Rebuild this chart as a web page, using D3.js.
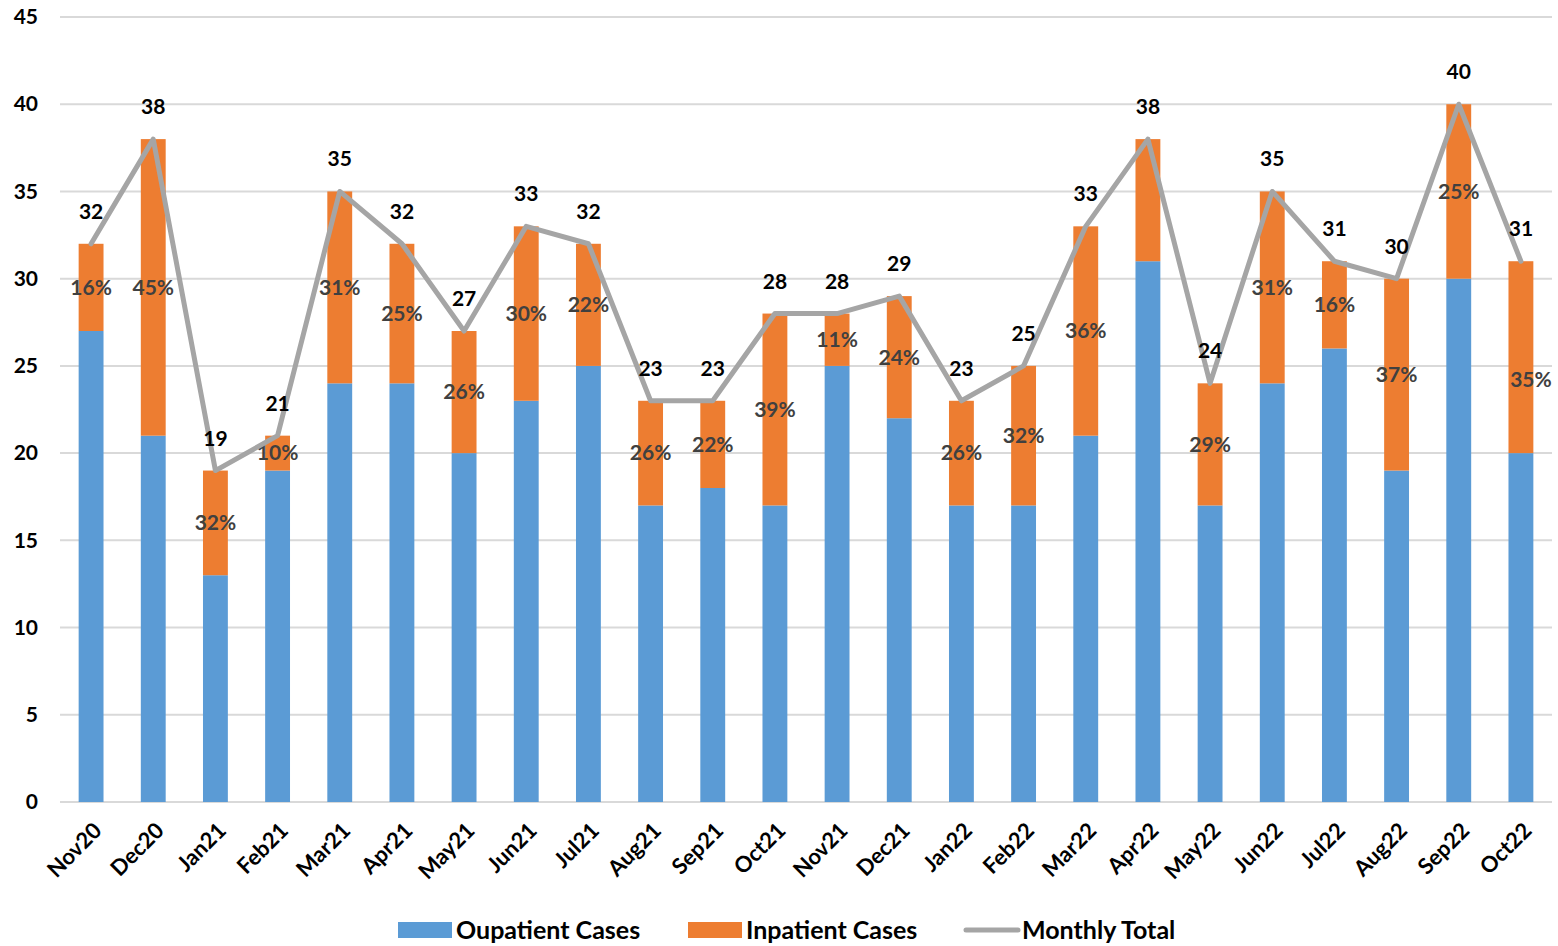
<!DOCTYPE html>
<html><head><meta charset="utf-8">
<script src="https://cdn.jsdelivr.net/npm/d3@7"></script>
<style>body{margin:0;background:#fff;} svg{display:block;}</style>
</head><body>
<script>
const categories = ["Nov20","Dec20","Jan21","Feb21","Mar21","Apr21","May21","Jun21","Jul21","Aug21","Sep21","Oct21","Nov21","Dec21","Jan22","Feb22","Mar22","Apr22","May22","Jun22","Jul22","Aug22","Sep22","Oct22"];
const outpatient = [27,21,13,19,24,24,20,23,25,17,18,17,25,22,17,17,21,31,17,24,26,19,30,20];
const totals = [32,38,19,21,35,32,27,33,32,23,23,28,28,29,23,25,33,38,24,35,31,30,40,31];
const inpatient = totals.map((t,i)=>t-outpatient[i]);
const pctLabels = ["16%","45%","32%","10%","31%","25%","26%","30%","22%","26%","22%","39%","11%","24%","26%","32%","36%","","29%","31%","16%","37%","25%","35%"];
const yTicks = [0,5,10,15,20,25,30,35,40,45];

const W=1558,H=946;
const m={left:60,right:6,top:17,bottom:144};
const svg=d3.select("body").append("svg").attr("width",W).attr("height",H);
const font="Lato, 'Open Sans', sans-serif";
const x=d3.scaleBand().domain(categories).range([m.left,W-m.right]).paddingInner(0.6).paddingOuter(0.3);
const y=d3.scaleLinear().domain([0,45]).range([H-m.bottom,m.top]);

// grid
svg.append("g").selectAll("line").data(yTicks).join("line")
  .attr("x1",m.left).attr("x2",W-m.right).attr("y1",d=>y(d)).attr("y2",d=>y(d))
  .attr("stroke","#d9d9d9").attr("stroke-width",2);

// y axis labels
const ya=svg.append("g").attr("transform",`translate(${m.left},0)`)
  .call(d3.axisLeft(y).tickValues(yTicks).tickSize(0).tickPadding(22));
ya.select(".domain").remove();
ya.selectAll("text").attr("font-family",font).attr("font-weight","bold").attr("font-size",21).attr("fill","#000");

// bars
const bw=x.bandwidth();
svg.append("g").selectAll("rect").data(categories).join("rect")
  .attr("x",d=>x(d)).attr("width",bw)
  .attr("y",(d,i)=>y(outpatient[i])).attr("height",(d,i)=>y(0)-y(outpatient[i]))
  .attr("fill","#5b9bd5");
svg.append("g").selectAll("rect").data(categories).join("rect")
  .attr("x",d=>x(d)).attr("width",bw)
  .attr("y",(d,i)=>y(totals[i])).attr("height",(d,i)=>y(outpatient[i])-y(totals[i]))
  .attr("fill","#ed7d31");

// x axis
const xa=svg.append("g").attr("transform",`translate(0,${y(0)})`)
  .call(d3.axisBottom(x).tickSize(0).tickPadding(0));
xa.select(".domain").remove();
xa.selectAll("text").attr("font-family",font).attr("font-weight","bold").attr("font-size",22).attr("fill","#000")
  .attr("text-anchor","end").attr("dy",0)
  .attr("transform","translate(12,30) rotate(-45)");

// percent labels
svg.append("g").selectAll("text").data(categories).join("text")
  .attr("x",(d,i)=>x(d)+bw/2+(i===categories.length-1?10:0))
  .attr("y",(d,i)=>(i===categories.length-1?y(24.2):y((outpatient[i]+totals[i])/2)))
  .attr("dy","0.35em").attr("text-anchor","middle")
  .attr("font-family",font).attr("font-weight","bold").attr("font-size",21).attr("fill","#404040")
  .text((d,i)=>pctLabels[i]);

// line
const line=d3.line().x((d,i)=>x(categories[i])+bw/2).y(d=>y(d));
svg.append("path").datum(totals).attr("d",line).attr("fill","none")
  .attr("stroke","#a5a5a5").attr("stroke-width",5).attr("stroke-linejoin","round").attr("stroke-linecap","round");

// total labels
svg.append("g").selectAll("text").data(totals).join("text")
  .attr("x",(d,i)=>x(categories[i])+bw/2).attr("y",d=>y(d)-25)
  .attr("text-anchor","middle")
  .attr("font-family",font).attr("font-weight","bold").attr("font-size",21).attr("fill","#000")
  .text(d=>d);

// legend
const lg=svg.append("g").attr("font-family",font).attr("font-weight","bold").attr("font-size",25);
const items=[{t:"Oupatient Cases",c:"#5b9bd5",type:"rect",x:398},{t:"Inpatient Cases",c:"#ed7d31",type:"rect",x:688},{t:"Monthly Total",c:"#a5a5a5",type:"line",x:964}];
items.forEach(it=>{
  if(it.type==="rect") lg.append("rect").attr("x",it.x).attr("y",922).attr("width",54).attr("height",16).attr("fill",it.c);
  else lg.append("line").attr("x1",it.x+2).attr("x2",it.x+54).attr("y1",930).attr("y2",930).attr("stroke",it.c).attr("stroke-width",5).attr("stroke-linecap","round");
  lg.append("text").attr("x",it.x+58).attr("y",930).attr("dy","0.35em").attr("fill","#000").text(it.t);
});
</script>
</body></html>
